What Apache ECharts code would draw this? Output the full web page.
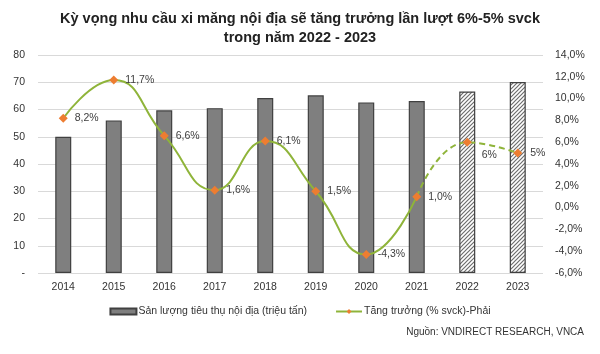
<!DOCTYPE html>
<html>
<head>
<meta charset="utf-8">
<script src="https://cdn.jsdelivr.net/npm/echarts@6/dist/echarts.min.js"></script>
<style>
  html, body { margin: 0; padding: 0; background: #fff; }
  #main { width: 600px; height: 354px; }
</style>
</head>
<body>
<div id="main"></div>
<script>
const years = ['2014', '2015', '2016', '2017', '2018', '2019', '2020', '2021', '2022', '2023']
const volume = [50, 56, 59.7, 60.5, 64.2, 65.2, 62.6, 63.1, 66.6, 70.1]
const growth = [8.2, 11.7, 6.6, 1.6, 6.1, 1.5, -4.3, 1.0, 6, 5]
const growthLabels = ['8,2%', '11,7%', '6,6%', '1,6%', '6,1%', '1,5%', '-4,3%', '1,0%', '6%', '5%']
const forecastFrom = 8 // 2022, 2023 la du bao

// hoa van gach cheo cho cot du bao
const hatch = document.createElement('canvas')
hatch.width = 4
hatch.height = 4
const hc = hatch.getContext('2d')
hc.fillStyle = '#fff'
hc.fillRect(0, 0, 4, 4)
hc.strokeStyle = '#6e6e6e'
hc.lineWidth = 1.2
hc.beginPath()
hc.moveTo(-1, 5); hc.lineTo(5, -1)
hc.moveTo(-1, 1); hc.lineTo(1, -1)
hc.moveTo(3, 5); hc.lineTo(5, 3)
hc.stroke()

const barData = volume.map((v, i) => {
  if (i < forecastFrom) return v
  return { value: v, itemStyle: { color: { image: hatch, repeat: 'repeat' } } }
})
const solidLine = growth.map((v, i) => (i < forecastFrom ? v : '-'))
const dashLine = growth.map((v, i) => {
  if (i < forecastFrom - 1) return '-'
  if (i === forecastFrom) return { value: v, label: { offset: [2, 13] } }
  return v
})

const lineColor = '#8fb43a'
const dotColor = '#ed7d31'
const font = 'Liberation Sans'
const labelStyle = {
  show: true,
  position: 'right',
  distance: 7,
  color: '#404040',
  fontSize: 10.5,
  fontFamily: font,
  formatter: (p) => growthLabels[p.dataIndex]
}

const chart = echarts.init(document.getElementById('main'))
chart.setOption({
  animation: false,
  textStyle: { fontFamily: font },
  title: {
    text: 'Kỳ vọng nhu cầu xi măng nội địa sẽ tăng trưởng lần lượt 6%-5% svck\ntrong năm 2022 - 2023',
    left: 'center',
    top: 4,
    textStyle: { fontSize: 14.5, fontWeight: 'bold', color: '#222', lineHeight: 19, fontFamily: font }
  },
  graphic: [{
    type: 'text',
    right: 16,
    top: 327,
    style: { text: 'Nguồn: VNDIRECT RESEARCH, VNCA', fill: '#333', font: '10px Liberation Sans' }
  }],
  legend: {
    data: [
      { name: 'Sản lượng tiêu thụ nội địa (triệu tấn)', icon: 'rect' },
      'Tăng trưởng (% svck)-Phải'
    ],
    top: 301,
    left: 'center',
    itemWidth: 26,
    itemHeight: 6,
    itemGap: 28,
    textStyle: { fontSize: 10.5, color: '#333', padding: [0, 0, 0, -3] }
  },
  grid: { left: 38, right: 57, top: 55, bottom: 81 },
  xAxis: {
    type: 'category',
    data: years,
    axisLine: { show: false },
    axisTick: { show: false },
    axisLabel: { color: '#333', fontSize: 10.5, margin: 9 }
  },
  yAxis: [{
    type: 'value',
    min: 0,
    max: 80,
    interval: 10,
    axisLabel: { color: '#333', fontSize: 10.5, margin: 13, formatter: (v) => (v === 0 ? '-' : v) },
    splitLine: { lineStyle: { color: '#d9d9d9', width: 1 } }
  }, {
    type: 'value',
    min: -6,
    max: 14,
    interval: 2,
    axisLabel: { color: '#333', fontSize: 10.5, margin: 12, formatter: (v) => v.toFixed(1).replace('.', ',') + '%' },
    splitLine: { show: false }
  }],
  series: [{
    name: 'Sản lượng tiêu thụ nội địa (triệu tấn)',
    type: 'bar',
    data: barData,
    barWidth: 16,
    itemStyle: { color: '#7f7f7f', borderColor: '#404040', borderWidth: 1.2 }
  }, {
    name: 'Tăng trưởng (% svck)-Phải',
    type: 'line',
    yAxisIndex: 1,
    data: solidLine,
    smooth: 0.5,
    symbol: 'diamond',
    symbolSize: 9,
    lineStyle: { color: lineColor, width: 2 },
    itemStyle: { color: dotColor },
    label: labelStyle,
    z: 3
  }, {
    name: 'du bao',
    type: 'line',
    yAxisIndex: 1,
    data: dashLine,
    smooth: 0.5,
    symbol: 'diamond',
    symbolSize: (v, p) => (p.dataIndex >= forecastFrom ? 9 : 0),
    lineStyle: { color: lineColor, width: 2, type: [6, 4] },
    itemStyle: { color: dotColor },
    label: Object.assign({}, labelStyle, {
      formatter: (p) => (p.dataIndex >= forecastFrom ? growthLabels[p.dataIndex] : ''),
      distance: 8
    }),
    z: 2
  }]
})
</script>
</body>
</html>
